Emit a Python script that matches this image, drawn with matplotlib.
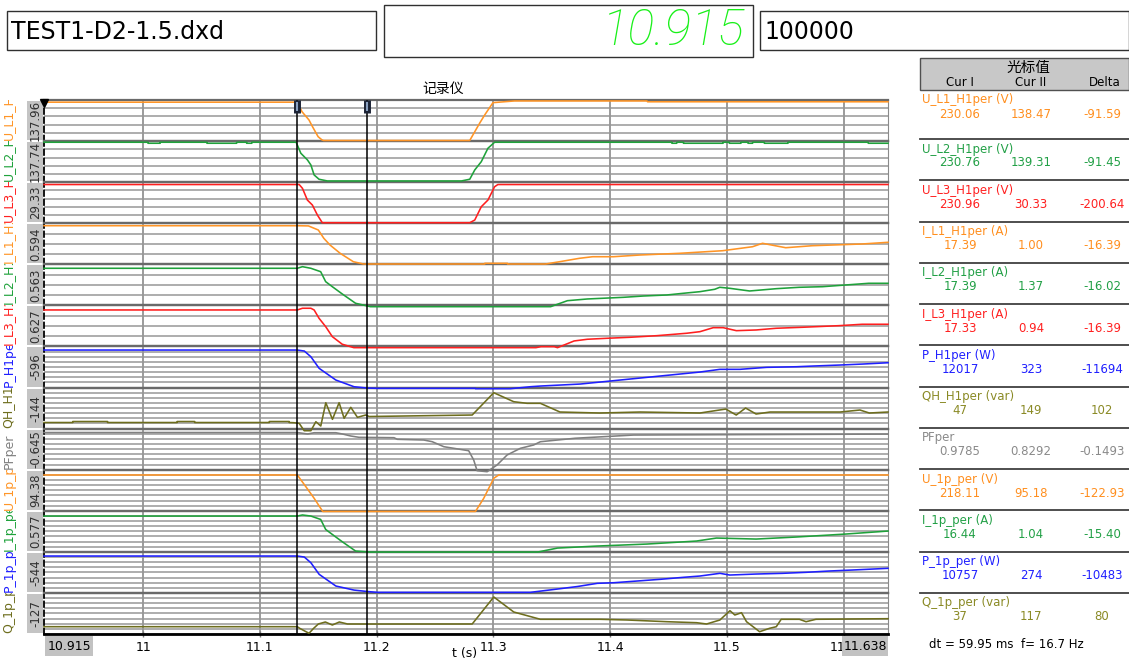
import numpy as np
import matplotlib
matplotlib.use("Agg")
import matplotlib.pyplot as plt
from matplotlib.patches import Rectangle
from matplotlib.transforms import Bbox

plt.rcParams['font.family'] = ['DejaVu Sans', 'Noto Sans CJK SC']

# ---------------- recording header ----------------
file_name = "TEST1-D2-1.5.dxd"
clock_text = "10.915"
sample_rate_text = "100000"
recorder_title = "记录仪"

# ---------------- time axis (s) ----------------
t_start, t_end = 10.915, 11.638
cursor_1, cursor_2 = 11.132, 11.192
time_ticks = [11.0, 11.1, 11.2, 11.3, 11.4, 11.5, 11.6]
time_tick_labels = ["11", "11.1", "11.2", "11.3", "11.4", "11.5", "11.6"]

# ---------------- channels ----------------
channel_names = ["U_L1_H1per", "U_L2_H1per", "U_L3_H1per", "I_L1_H1per", "I_L2_H1per",
                 "I_L3_H1per", "P_H1per", "QH_H1per", "PFper", "U_1p_per", "I_1p_per",
                 "P_1p_per", "Q_1p_per"]
channel_units = ["V", "V", "V", "A", "A", "A", "W", "var", "", "V", "A", "W", "var"]
scale_labels = ["137.96", "137.74", "29.33", "0.594", "0.563", "0.627", "-596",
                "-144", "-0.645", "94.38", "0.577", "-544", "-127"]

ORANGE, GREEN, RED, BLUE, OLIVE, GRAY = "#ff9526", "#1fa23b", "#ff1f1f", "#1f1fff", "#6e6e1e", "#808080"
channel_colors = [ORANGE, GREEN, RED, ORANGE, GREEN, RED, BLUE, OLIVE, GRAY, ORANGE, GREEN, BLUE, OLIVE]

# vertical range of each strip (bottom, top)
y_ranges = [(137.04, 235.26), (136.47, 233.54), (27.70, 243.45), (0.87, 18.45),
            (1.91, 19.05), (1.46, 19.32), (476.9, 13117.0), (-56.7, 641.7),
            (-0.1784, 1.0998), (97.54, 235.9), (1.126, 18.70), (-139.4, 11992.0),
            (-182.0, 1050.0)]
grid_divisions = [5, 5, 5, 4, 4, 4, 8, 8, 8, 8, 8, 8, 8]

# ---------------- recorded series ----------------
t_u_l1 = [10.915, 11.132, 11.136, 11.142, 11.145, 11.1498, 11.153, 11.1545, 11.2797,
          11.2883, 11.2925, 11.2996, 11.318, 11.4315, 11.432, 11.638]
u_l1 = [230.06, 230.06, 207.3, 187.5, 171.5, 147.6, 140.1, 138.47, 138.47,
        180.3, 199.4, 228.9, 233.0, 233.0, 231.0, 231.0]

t_u_l2 = [10.915, 11.004, 11.0041, 11.0145, 11.0146, 11.0545, 11.0546, 11.080, 11.0801,
          11.0885, 11.0886, 11.093, 11.0931, 11.131, 11.135, 11.1407, 11.1436, 11.1464,
          11.1506, 11.1577, 11.2726, 11.2797, 11.284, 11.2896, 11.2953, 11.301,
          11.4528, 11.4529, 11.457, 11.4571, 11.4627, 11.4628, 11.4967, 11.4968,
          11.502, 11.5021, 11.512, 11.5121, 11.518, 11.5181, 11.522, 11.5221,
          11.532, 11.5321, 11.5523, 11.5524, 11.621, 11.6211, 11.638]
u_l2 = [230.76, 230.76, 228.4, 228.4, 230.76, 230.76, 228.4, 228.4, 230.76,
        230.76, 228.4, 228.4, 230.76, 230.76, 204.8, 188.9, 177.1, 153.5,
        143.3, 139.31, 139.31, 143.3, 165.3, 184.9, 216.6, 230.76,
        230.76, 228.4, 228.4, 230.76, 230.76, 228.4, 228.4, 230.76,
        230.76, 228.4, 228.4, 230.76, 230.76, 228.4, 228.4, 230.76,
        230.76, 228.4, 228.4, 230.76, 230.76, 228.4, 228.4]

t_u_l3 = [10.915, 11.1336, 11.1364, 11.1406, 11.1449, 11.1492, 11.1534, 11.2797,
          11.284, 11.2896, 11.2953, 11.301, 11.3038, 11.638]
u_l3 = [230.96, 230.96, 211.0, 149.5, 123.3, 70.8, 30.33, 30.33,
        44.5, 114.4, 149.5, 219.4, 230.96, 230.96]

t_i_l1 = [10.915, 11.132, 11.1415, 11.150, 11.1547, 11.160, 11.1687, 11.180, 11.1887,
          11.2925, 11.2926, 11.312, 11.3121, 11.3447, 11.3567, 11.3737, 11.385, 11.4028,
          11.4255, 11.4596, 11.4964, 11.522, 11.5305, 11.5504, 11.5731, 11.6156, 11.638]
i_l1 = [17.39, 17.39, 17.30, 15.55, 12.0, 9.13, 5.58, 1.98, 1.00,
        1.00, 1.3, 1.3, 1.00, 1.00, 1.98, 3.44, 4.12, 4.12,
        4.85, 5.58, 6.69, 8.40, 9.86, 7.97, 8.83, 9.56, 10.29]

t_i_l2 = [10.915, 11.132, 11.1364, 11.1436, 11.152, 11.1563, 11.162, 11.1705, 11.1819,
          11.1946, 11.349, 11.3634, 11.3804, 11.3932, 11.4117, 11.4287, 11.4485, 11.4627,
          11.4769, 11.4896, 11.4939, 11.5024, 11.5194, 11.5423, 11.5619, 11.5819, 11.6017,
          11.6215, 11.638]
i_l2 = [17.39, 17.39, 18.06, 17.39, 15.97, 11.8, 9.71, 6.67, 2.79,
        1.37, 1.37, 3.87, 4.58, 4.87, 5.29, 5.83, 6.25, 6.96,
        7.63, 8.63, 9.46, 9.04, 7.92, 8.88, 9.46, 9.71, 10.42,
        11.13, 11.13]

t_i_l3 = [10.915, 11.132, 11.1364, 11.1436, 11.1464, 11.1506, 11.1563, 11.162, 11.1705,
          11.1804, 11.3364, 11.3407, 11.3521, 11.3549, 11.3606, 11.3691, 11.3804, 11.3974,
          11.4173, 11.44, 11.4655, 11.4769, 11.4883, 11.4968, 11.5081, 11.5251, 11.5421,
          11.5649, 11.596, 11.6159, 11.638]
i_l3 = [17.33, 17.33, 18.07, 18.07, 17.33, 13.72, 10.07, 5.72, 2.42,
        0.94, 0.94, 1.37, 1.37, 0.94, 2.11, 3.85, 4.59, 5.02,
        5.46, 6.15, 7.20, 7.89, 9.63, 9.63, 8.33, 8.63, 9.37,
        9.81, 10.50, 11.11, 11.11]

t_p = [10.915, 11.132, 11.138, 11.1436, 11.1507, 11.165, 11.1806, 11.192, 11.2006,
       11.2846, 11.2847, 11.3145, 11.3316, 11.3402, 11.3744, 11.4085, 11.4427, 11.4769,
       11.494, 11.5111, 11.534, 11.5596, 11.5738, 11.5966, 11.6165, 11.638]
p = [12017, 12017, 11708, 9954, 6385, 2785, 723, 323, 231,
     231, 120, 120, 723, 938, 1554, 2785, 4015, 5246,
     6077, 6077, 6692, 6877, 7092, 7400, 7708, 8108]

t_qh = [10.915, 10.9396, 10.9397, 10.9694, 10.9695, 11.029, 11.0291, 11.044, 11.0441,
        11.108, 11.1081, 11.125, 11.1251, 11.129, 11.1336, 11.1379, 11.1436, 11.1479,
        11.1521, 11.1564, 11.1621, 11.1678, 11.1721, 11.1778, 11.1835, 11.1906, 11.1935,
        11.2818, 11.3003, 11.3174, 11.3288, 11.3402, 11.357, 11.391, 11.4256, 11.4769,
        11.499, 11.508, 11.516, 11.525, 11.537, 11.597, 11.614, 11.622, 11.638]
qh = [47, 47, 64, 64, 47, 47, 64, 64, 47,
      47, 64, 64, 47, 43.6, 33.4, -92.4, -92.4, 60.6,
      -12.5, 383.6, 101.4, 383.6, 118.4, 305.4, 135.4, 174.5, 149,
      174.5, 553.6, 400.6, 373.4, 373.4, 225.5, 208.5, 225.5, 208.5,
      276, 174.5, 293.5, 191.5, 225.5, 225.5, 259.5, 208.5, 225.5]

t_pf = [10.915, 11.132, 11.1408, 11.1464, 11.165, 11.1707, 11.1778, 11.1849, 11.2148,
        11.2177, 11.2404, 11.2476, 11.2575, 11.266, 11.2788, 11.2831, 11.286, 11.2946,
        11.3031, 11.3117, 11.3231, 11.3344, 11.3402, 11.37, 11.42, 11.638]
pf = [0.9785, 0.9785, 0.932, 0.972, 0.972, 0.932, 0.870, 0.829, 0.817,
      0.767, 0.745, 0.692, 0.537, 0.487, 0.412, 0.123, -0.210, -0.241,
      -0.032, 0.279, 0.487, 0.590, 0.692, 0.80, 0.90, 0.93]

t_u_1p = [10.915, 11.132, 11.1393, 11.1464, 11.1538, 11.2846, 11.2917, 11.3003, 11.3045, 11.638]
u_1p = [218.11, 218.11, 178.7, 139.6, 95.18, 95.18, 139.6, 207.0, 218.11, 218.11]

t_i_1p = [10.915, 11.132, 11.1364, 11.1436, 11.152, 11.1563, 11.162, 11.1705, 11.1819,
          11.1946, 11.3379, 11.3549, 11.389, 11.4315, 11.474, 11.491, 11.525, 11.559,
          11.6017, 11.638]
i_1p = [16.44, 16.44, 16.9, 16.44, 14.99, 10.71, 8.57, 5.45, 1.47,
        1.04, 1.04, 2.75, 3.61, 4.46, 5.75, 7.03, 6.60, 7.46,
        8.74, 10.02]

t_p_1p = [10.915, 11.132, 11.138, 11.1436, 11.1507, 11.165, 11.1806, 11.192, 11.2006,
          11.3316, 11.3549, 11.3719, 11.389, 11.4032, 11.423, 11.4428, 11.4627, 11.4769,
          11.494, 11.5024, 11.5251, 11.5478, 11.5677, 11.5875, 11.6074, 11.638]
p_1p = [10757, 10757, 10461, 8779, 5353, 1898, 700, 274, 30,
        30, 1012, 1750, 2695, 2873, 3375, 3877, 4467, 4851,
        5648, 5146, 5441, 5648, 5944, 6328, 6623, 7125]

t_q_1p = [10.915, 11.132, 11.134, 11.142, 11.146, 11.150, 11.156, 11.162, 11.168, 11.175,
          11.192, 11.2818, 11.3003, 11.3174, 11.3402, 11.3915, 11.4145, 11.4485, 11.474,
          11.4826, 11.494, 11.5026, 11.5068, 11.5125, 11.5168, 11.528, 11.5366, 11.5423,
          11.5465, 11.5621, 11.5678, 11.5763, 11.638]
q_1p = [37, 37, -11, -161, -11, 118, 178, 88, 178, 118,
        117, 118, 928, 478, 259, 259, 238, 187, 157,
        118, 238, 517, 388, 457, 187, -113, -11, 37,
        259, 259, 187, 259, 277]

series = [(t_u_l1, u_l1), (t_u_l2, u_l2), (t_u_l3, u_l3), (t_i_l1, i_l1), (t_i_l2, i_l2),
          (t_i_l3, i_l3), (t_p, p), (t_qh, qh), (t_pf, pf), (t_u_1p, u_1p),
          (t_i_1p, i_1p), (t_p_1p, p_1p), (t_q_1p, q_1p)]

# ---------------- cursor readout ----------------
cur1_values = ["230.06", "230.76", "230.96", "17.39", "17.39", "17.33", "12017", "47",
               "0.9785", "218.11", "16.44", "10757", "37"]
cur2_values = ["138.47", "139.31", "30.33", "1.00", "1.37", "0.94", "323", "149",
               "0.8292", "95.18", "1.04", "274", "117"]
delta_values = ["-91.59", "-91.45", "-200.64", "-16.39", "-16.02", "-16.39", "-11694",
                "102", "-0.1493", "-122.93", "-15.40", "-10483", "80"]
readout_colors = ["#ff8f1f", "#22a046", "#ff2020", "#ff8f1f", "#22a046", "#ff2020",
                  "#2020ff", "#8a8a25", "#8a8a8a", "#ff8f1f", "#22a046", "#2020ff", "#8a8a25"]
cursor_info = "dt = 59.95 ms  f= 16.7 Hz"

# =====================================================================
W, H = 1129, 661
fig = plt.figure(figsize=(W / 100, H / 100), dpi=100)
fig.patch.set_facecolor("white")


def frac(x0, y0, x1, y1):
    return [x0 / W, 1 - y1 / H, (x1 - x0) / W, (y1 - y0) / H]


# pixel-space canvas for panels and labels
bg = fig.add_axes([0, 0, 1, 1], zorder=0)
bg.set_xlim(0, W)
bg.set_ylim(H, 0)
bg.axis("off")

# header boxes
bg.add_patch(Rectangle((7, 11), 369, 39, fc="white", ec="#303030", lw=1.0))
bg.text(11, 32, file_name, fontsize=17, ha="left", va="center", color="black")
bg.add_patch(Rectangle((384, 5), 369, 52, fc="white", ec="#303030", lw=1.0))
bg.text(745, 31, clock_text, fontsize=36, ha="right", va="center", color="#19f019",
        family=["Roboto", "DejaVu Sans"], weight="light", style="italic")
bg.add_patch(Rectangle((760, 11), 369, 39, fc="white", ec="#303030", lw=1.0))
bg.text(764, 32, sample_rate_text, fontsize=17, ha="left", va="center", color="black")

bg.text(443, 89, recorder_title, fontsize=10, ha="center", va="center")
bg.text(465, 654, "t (s)", fontsize=9, ha="center", va="center")

# strip geometry
PX0, PX1, PY0, PY1 = 44, 888, 100, 634
n_strips = len(series)
SH = (PY1 - PY0) / n_strips

for k, ((tt, vv), color, (lo, hi), ndiv) in enumerate(
        zip(series, channel_colors, y_ranges, grid_divisions)):
    top = PY0 + k * SH
    rect = frac(PX0, top, PX1, top + SH)

    # grid layer of the strip
    ax = fig.add_axes(rect, zorder=2)
    ax.patch.set_visible(False)
    ax.set_xlim(t_start, t_end)
    ax.set_ylim(lo, hi)
    ax.set_yticks(np.linspace(lo, hi, ndiv + 1))
    ax.set_xticks(time_ticks)
    ax.grid(True, axis="y", color="#979797", lw=1.1)
    ax.grid(True, axis="x", color="#8a8a8a", lw=1.2)
    ax.tick_params(axis="y", length=0, labelleft=False)
    for side in ("top", "bottom"):
        ax.spines[side].set_color("#6a6a6a")
        ax.spines[side].set_linewidth(1.6)
    ax.spines["left"].set_color("black")
    ax.spines["left"].set_linewidth(1.3)
    ax.spines["left"].set_linestyle((0, (3, 2)))
    ax.spines["right"].set_color("#8a8a8a")
    if k < n_strips - 1:
        ax.tick_params(axis="x", length=0, labelbottom=False)
    else:
        ax.set_xticklabels(time_tick_labels)
        ax.tick_params(axis="x", length=4, width=1, color="#777777", labelsize=9,
                       pad=3, direction="inout")
        ax.spines["bottom"].set_color("black")
        ax.spines["bottom"].set_linewidth(2)

    # trace layer of the strip, above every grid
    dax = fig.add_axes(rect, zorder=3)
    dax.set_xlim(t_start, t_end)
    dax.set_ylim(lo, hi)
    dax.axis("off")
    dax.plot(tt, vv, color=color, lw=1.15, clip_on=False)

    # scale label box and channel name in the left margin
    bg.add_patch(Rectangle((27, top + 1), 16, SH - 2, fc="#c4c4c4", ec="none"))
    bg.text(35.5, top + SH / 2, scale_labels[k], rotation=90, fontsize=8.5,
            ha="center", va="center", color="#303030")
    name = bg.text(9, top + SH - 1, channel_names[k], rotation=90, rotation_mode="anchor",
                   ha="left", va="center", fontsize=9, color=color)
    name.set_clip_box(Bbox.from_extents(0, H - (top + SH), 24, H - top))
    name.set_clip_on(True)

# cursors
cur = fig.add_axes(frac(PX0, PY0, PX1, PY1), zorder=4)
cur.set_xlim(t_start, t_end)
cur.set_ylim(0, 1)
cur.axis("off")
for c in (cursor_1, cursor_2):
    cur.axvline(c, color="black", lw=1.1)
    cur.plot([c, c], [0.975, 1.0], color="#1c2436", lw=5, solid_capstyle="butt")
    cur.plot([c, c], [0.979, 0.996], color="#8aa0c0", lw=1.5, solid_capstyle="butt")
cur.plot([t_start], [0.994], marker="v", color="black", ms=6, clip_on=False)

# overlay for time range boxes
top_layer = fig.add_axes([0, 0, 1, 1], zorder=5)
top_layer.set_xlim(0, W)
top_layer.set_ylim(H, 0)
top_layer.axis("off")
top_layer.add_patch(Rectangle((45, 636), 48, 20, fc="#c2c2c2", ec="none"))
top_layer.text(69, 646, f"{t_start:.3f}", fontsize=9, ha="center", va="center")
top_layer.add_patch(Rectangle((842, 636), 46, 20, fc="#c2c2c2", ec="none"))
top_layer.text(865, 646, f"{t_end:.3f}", fontsize=9, ha="center", va="center")

# cursor readout panel
bg.add_patch(Rectangle((920, 58), 209, 32, fc="#c8c8c8", ec="#505050", lw=1.0))
bg.text(1028, 67, "光标值", fontsize=10.5, ha="center", va="center")
bg.text(960, 83, "Cur I", fontsize=8.5, ha="center", va="center")
bg.text(1031, 83, "Cur II", fontsize=8.5, ha="center", va="center")
bg.text(1105, 83, "Delta", fontsize=8.5, ha="center", va="center")

row_tops = [90] + [139 + 41.27 * i for i in range(n_strips - 1)]
for i in range(n_strips):
    rt = row_tops[i]
    if i > 0:
        bg.plot([920, 1129], [rt, rt], color="#404040", lw=1.3)
    unit = f" ({channel_units[i]})" if channel_units[i] else ""
    col = readout_colors[i]
    bg.text(922, rt + 10, channel_names[i] + unit, fontsize=8.5, ha="left", va="center", color=col)
    bg.text(960, rt + 24, cur1_values[i], fontsize=8.5, ha="center", va="center", color=col)
    bg.text(1031, rt + 24, cur2_values[i], fontsize=8.5, ha="center", va="center", color=col)
    bg.text(1102, rt + 24, delta_values[i], fontsize=8.5, ha="center", va="center", color=col)
bg.text(929, 644, cursor_info, fontsize=8.5, ha="left", va="center", color="black")

fig.savefig("out.png", dpi=100, facecolor="white")
